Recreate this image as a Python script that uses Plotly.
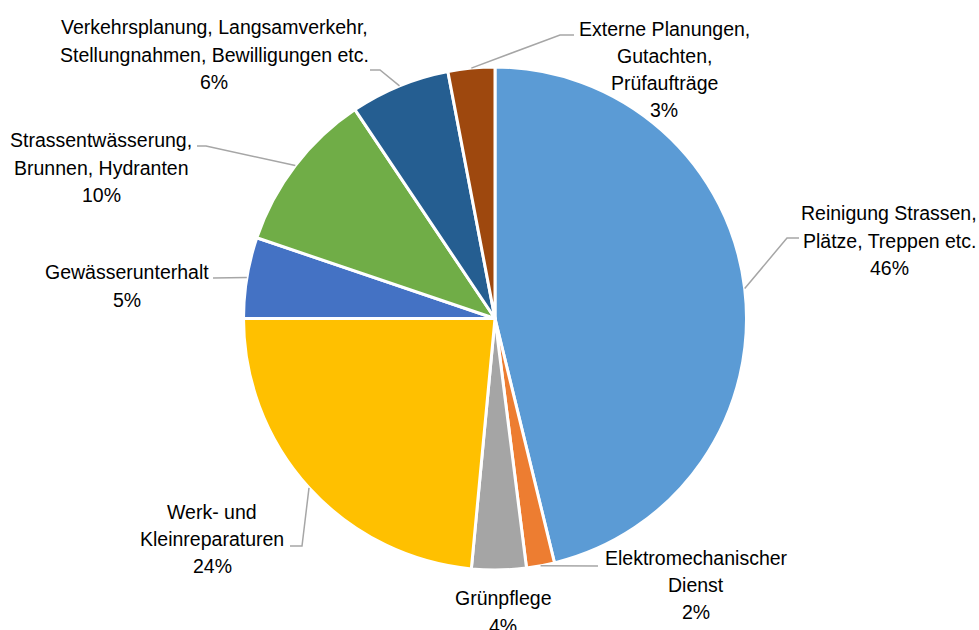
import math
import plotly.graph_objects as go

# ---- data ----
categories = [
    "Reinigung Strassen,\nPlätze, Treppen etc.",
    "Elektromechanischer\nDienst",
    "Grünpflege",
    "Werk- und\nKleinreparaturen",
    "Gewässerunterhalt",
    "Strassentwässerung,\nBrunnen, Hydranten",
    "Verkehrsplanung, Langsamverkehr,\nStellungnahmen, Bewilligungen etc.",
    "Externe Planungen,\nGutachten,\nPrüfaufträge",
]
shares = [46.2, 1.8, 3.5, 23.5, 5.2, 10.4, 6.4, 3.0]

# ---- style / layout ----
colors = ["#5B9BD5", "#ED7D31", "#A5A5A5", "#FFC000",
          "#4472C4", "#70AD47", "#255E91", "#9E480E"]
W, H = 979, 630
CX, CY, R = 495.0, 318.5, 251.5          # pie centre / radius in pixels
FONT = "Liberation Sans, Arial, sans-serif"
FSIZE = 19.5
LSPACE = 27.3
LINE_COLOR = "#A6A6A6"

# label text centres and leader-line elbow points (pixels, y down)
label_centres = [(889, 240.5), (696, 585), (503, 612), (212, 539),
                 (127, 286), (101, 167.5), (214, 54.5), (664, 69.5)]
leader_elbows = [[(787, 238), (799, 238)], [(598, 566)], None,
                 [(302, 546), (290, 546)], [(213, 278)],
                 [(206, 146), (197, 146)], [(380, 70), (370, 70)],
                 [(560, 35), (574, 35)]]

fig = go.Figure()
fig.add_trace(go.Pie(
    values=shares,
    labels=[c.replace("\n", " ") for c in categories],
    sort=False, direction="clockwise", rotation=0,
    textinfo="none", hoverinfo="label+percent",
    marker=dict(colors=colors, line=dict(color="white", width=3)),
    showlegend=False,
    domain=dict(x=[(CX - R) / W, (CX + R) / W],
                y=[(H - (CY + R)) / H, (H - (CY - R)) / H]),
))

total = sum(shares)
annotations = []
shapes = []
cum = 0.0
for i, (cat, v) in enumerate(zip(categories, shares)):
    pct = v / total * 100
    mid = (cum + v / 2) / total * 2 * math.pi
    cum += v
    sx = CX + R * math.sin(mid)
    sy = CY - R * math.cos(mid)
    lines = cat.split("\n") + [f"{int(pct + 0.5)}%"]
    cx, cy = label_centres[i]
    n = len(lines)
    for k, t in enumerate(lines):
        annotations.append(dict(
            x=cx, y=cy + (k - (n - 1) / 2) * LSPACE, xref="x", yref="y",
            text=t, showarrow=False, xanchor="center", yanchor="middle",
            font=dict(family=FONT, size=FSIZE, color="#000000")))
    if leader_elbows[i]:
        pts = [(sx, sy)] + leader_elbows[i]
        path = "M " + " L ".join(f"{x:.1f},{y:.1f}" for x, y in pts)
        shapes.append(dict(type="path", path=path, xref="x", yref="y",
                           line=dict(color=LINE_COLOR, width=1.5),
                           layer="above"))

fig.update_layout(
    width=W, height=H,
    margin=dict(l=0, r=0, t=0, b=0),
    paper_bgcolor="white", plot_bgcolor="rgba(0,0,0,0)",
    xaxis=dict(range=[0, W], visible=False, fixedrange=True),
    yaxis=dict(range=[H, 0], visible=False, fixedrange=True),
    annotations=annotations, shapes=shapes,
)
fig.write_html(
    "out.html",
    config={"displayModeBar": False},
    post_script="document.body.style.margin='0';"
                "document.body.style.overflow='hidden';",
)
